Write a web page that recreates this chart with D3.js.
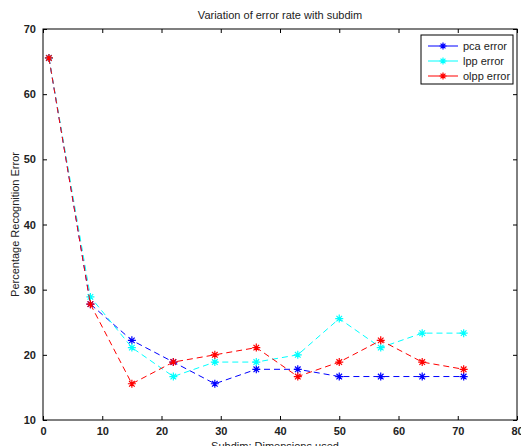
<!DOCTYPE html>
<meta charset="utf-8">
<script src="https://d3js.org/d3.v7.min.js"></script>
<style>
  body { margin: 0; background: #fff; }
  text { font-family: Arial, "Liberation Sans", sans-serif; }
</style>
<div id="chart"></div>
<script>
// data
const subdim = [1, 8, 15, 22, 29, 36, 43, 50, 57, 64, 71];
const pcaError = [65.56, 27.78, 22.22, 18.89, 15.56, 17.78, 17.78, 16.67, 16.67, 16.67, 16.67];
const lppError = [65.56, 28.89, 21.11, 16.67, 18.89, 18.89, 20.00, 25.56, 21.11, 23.33, 23.33];
const olppError = [65.56, 27.78, 15.56, 18.89, 20.00, 21.11, 16.67, 18.89, 22.22, 18.89, 17.78];
const seriesNames = ["pca error", "lpp error", "olpp error"];
const xTicks = [0, 10, 20, 30, 40, 50, 60, 70, 80];
const yTicks = [10, 20, 30, 40, 50, 60, 70];

const series = [
  {name: seriesNames[0], values: pcaError, color: "#0000ff"},
  {name: seriesNames[1], values: lppError, color: "#00ffff"},
  {name: seriesNames[2], values: olppError, color: "#ff0000"}
];

const W = 521, H = 446;
const margin = {top: 29, right: 4, bottom: 26, left: 43};
const width = W - margin.left - margin.right,
      height = H - margin.top - margin.bottom;

const svg = d3.select("#chart").append("svg")
    .attr("width", W).attr("height", H);
const g = svg.append("g")
    .attr("transform", `translate(${margin.left},${margin.top})`);

const x = d3.scaleLinear().domain([0, 80]).range([0, width]);
const y = d3.scaleLinear().domain([10, 70]).range([height, 0]);

// axes with inward ticks
const axisStyle = sel => {
  sel.select(".domain").remove();
  sel.selectAll("line").attr("stroke", "#000");
  sel.selectAll("text").style("font-size", "11px").style("font-weight", "bold").attr("fill", "#222");
};
g.append("g").attr("transform", `translate(0,${height})`)
  .call(d3.axisBottom(x).tickValues(xTicks).tickSizeInner(-4).tickSizeOuter(0).tickPadding(7))
  .call(axisStyle);
g.append("g")
  .call(d3.axisTop(x).tickValues(xTicks).tickSizeInner(-4).tickSizeOuter(0).tickFormat(""))
  .call(axisStyle);
g.append("g")
  .call(d3.axisLeft(y).tickValues(yTicks).tickSizeInner(-4).tickSizeOuter(0).tickPadding(7))
  .call(axisStyle);
g.append("g").attr("transform", `translate(${width},0)`)
  .call(d3.axisRight(y).tickValues(yTicks).tickSizeInner(-4).tickSizeOuter(0).tickFormat(""))
  .call(axisStyle);

g.append("rect")
  .attr("width", width).attr("height", height)
  .attr("fill", "none").attr("stroke", "#000").attr("stroke-width", 1);

// star marker path
function star(cx, cy, r) {
  const d = r * 0.7;
  return `M${cx - r},${cy}L${cx + r},${cy}M${cx},${cy - r}L${cx},${cy + r}` +
         `M${cx - d},${cy - d}L${cx + d},${cy + d}M${cx - d},${cy + d}L${cx + d},${cy - d}`;
}

const line = d3.line().x((d, i) => x(subdim[i])).y(d => y(d));

series.forEach(s => {
  g.append("path")
    .datum(s.values)
    .attr("fill", "none")
    .attr("stroke", s.color)
    .attr("stroke-width", 1)
    .attr("stroke-dasharray", "6,4")
    .attr("d", line);
  g.selectAll(null)
    .data(s.values)
    .join("path")
    .attr("d", (d, i) => star(x(subdim[i]), y(d), 4))
    .attr("stroke", s.color)
    .attr("stroke-width", 1.2)
    .attr("fill", "none");
});

// title and labels
svg.append("text")
  .attr("x", margin.left + width / 2).attr("y", 19)
  .attr("text-anchor", "middle")
  .style("font-size", "11px").attr("fill", "#222")
  .text("Variation of error rate with subdim");
svg.append("text")
  .attr("transform", `translate(19,${margin.top + height / 2}) rotate(-90)`)
  .attr("text-anchor", "middle")
  .style("font-size", "11px").attr("fill", "#222")
  .text("Percentage Recognition Error");
svg.append("text")
  .attr("x", margin.left + width / 2 - 5).attr("y", 450)
  .attr("text-anchor", "middle")
  .style("font-size", "11px").attr("fill", "#222")
  .text("Subdim: Dimensions used");

// legend
const lg = svg.append("g").attr("transform", "translate(421,35)");
lg.append("rect")
  .attr("width", 92).attr("height", 49)
  .attr("fill", "#fff").attr("stroke", "#000").attr("stroke-width", 1);
series.forEach((s, i) => {
  const ly = 11 + i * 15;
  lg.append("line")
    .attr("x1", 7).attr("x2", 37).attr("y1", ly).attr("y2", ly)
    .attr("stroke", s.color).attr("stroke-width", 1);
  lg.append("path")
    .attr("d", star(22, ly, 3.5))
    .attr("stroke", s.color).attr("stroke-width", 1.2).attr("fill", "none");
  lg.append("text")
    .attr("x", 42).attr("y", ly + 4)
    .style("font-size", "11px").attr("fill", "#222")
    .text(s.name);
});
</script>
